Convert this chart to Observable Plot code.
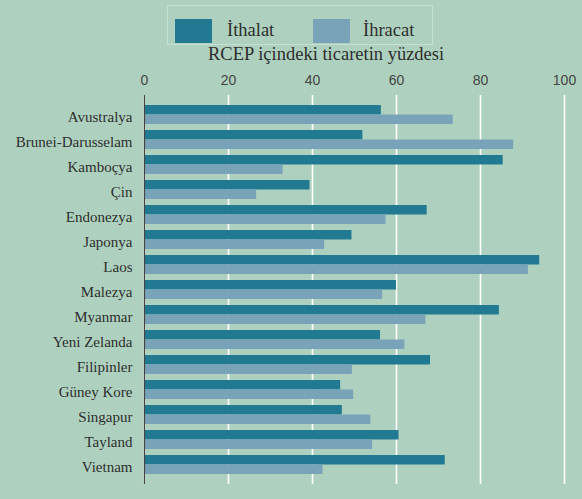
<!DOCTYPE html>
<html><head><meta charset="utf-8">
<script src="https://cdn.jsdelivr.net/npm/d3@7"></script>
<script src="https://cdn.jsdelivr.net/npm/@observablehq/plot@0.6"></script>
<style>
body{margin:0;background:#aed1bf;}
#wrap{position:relative;width:582px;height:499px;background:#aed1bf;overflow:hidden;}
#legend{position:absolute;left:167px;top:5px;width:264px;height:38px;border:1px solid #c6e0d4;}
.sw{position:absolute;top:12.5px;width:37px;height:24px;}
.lt{position:absolute;top:12.5px;line-height:22px;font-family:"Liberation Serif","DejaVu Serif",serif;font-size:18.5px;color:#2e2e2e;white-space:nowrap;}
#title{position:absolute;left:208px;top:44px;white-space:nowrap;font-family:"Liberation Serif","DejaVu Serif",serif;font-size:18.5px;color:#2e2e2e;}
#chart{position:absolute;left:0;top:0;}
</style></head><body>
<div id="wrap">
  <div id="chart"></div>
  <div id="legend"></div>
  <div id="title"></div>
</div>
<script>
const countries = ["Avustralya","Brunei-Darusselam","Kamboçya","Çin","Endonezya","Japonya","Laos","Malezya","Myanmar","Yeni Zelanda","Filipinler","Güney Kore","Singapur","Tayland","Vietnam"];
const importValues = [56.4, 52.0, 85.4, 39.4, 67.3, 49.4, 94.1, 60.0, 84.5, 56.2, 68.1, 46.7, 47.1, 60.6, 71.6];
const exportValues = [73.5, 87.9, 33.0, 26.7, 57.5, 42.9, 91.4, 56.7, 67.0, 62.0, 49.5, 49.8, 53.9, 54.3, 42.5];
const seriesNames = ["İthalat", "İhracat"];
const seriesColors = ["#217a92", "#78a3b9"];
const xTicks = [0, 20, 40, 60, 80, 100];
const axisTitle = "RCEP içindeki ticaretin yüzdesi";

const importRows = countries.map((c, i) => ({country: c, series: seriesNames[0], value: importValues[i]}));
const exportRows = countries.map((c, i) => ({country: c, series: seriesNames[1], value: exportValues[i]}));

const chart = Plot.plot({
  width: 582,
  height: 499,
  marginLeft: 144,
  marginRight: 18,
  marginTop: 95,
  marginBottom: 15,
  style: {background: "transparent", color: "#3a3a3a"},
  x: {domain: [0, 100], ticks: xTicks, label: null, axis: null},
  y: {domain: countries, paddingInner: 0.246, paddingOuter: 0.34, label: null, axis: null},
  marks: [
    Plot.gridX(xTicks, {stroke: "#ffffff", strokeOpacity: 1, strokeWidth: 1.6}),
    Plot.barX(importRows, {x: "value", y: "country", fill: seriesColors[0], insetBottom: 9.5}),
    Plot.barX(exportRows, {x: "value", y: "country", fill: seriesColors[1], insetTop: 9.5}),
    Plot.ruleX([0], {stroke: "#444444", strokeWidth: 1.2}),
    Plot.axisX(xTicks, {anchor: "top", tickSize: 0, tickPadding: 11, label: null}),
    Plot.axisY(countries, {anchor: "left", tickSize: 0, tickPadding: 12, label: null, dy: 2})
  ]
});
document.getElementById("chart").appendChild(chart);

const xTickStrings = xTicks.map(String);
d3.select(chart).selectAll("text").each(function () {
  const t = this.textContent.trim();
  if (countries.includes(t)) {
    d3.select(this).style("font-family", "'Liberation Serif', 'Times New Roman', serif").style("font-size", "15px").style("fill", "#2e2e2e");
  } else if (xTickStrings.includes(t)) {
    d3.select(this).style("font-family", "'Liberation Sans', Arial, sans-serif").style("font-size", "14px").style("fill", "#444");
  }
});

const legend = document.getElementById("legend");
const swLefts = [7, 145];
const textLefts = [59, 195];
seriesNames.forEach((name, i) => {
  const sw = document.createElement("div");
  sw.className = "sw";
  sw.style.left = swLefts[i] + "px";
  sw.style.background = seriesColors[i];
  legend.appendChild(sw);
  const lt = document.createElement("div");
  lt.className = "lt";
  lt.style.left = textLefts[i] + "px";
  lt.textContent = name;
  legend.appendChild(lt);
});
document.getElementById("title").textContent = axisTitle;
</script>
</body></html>
